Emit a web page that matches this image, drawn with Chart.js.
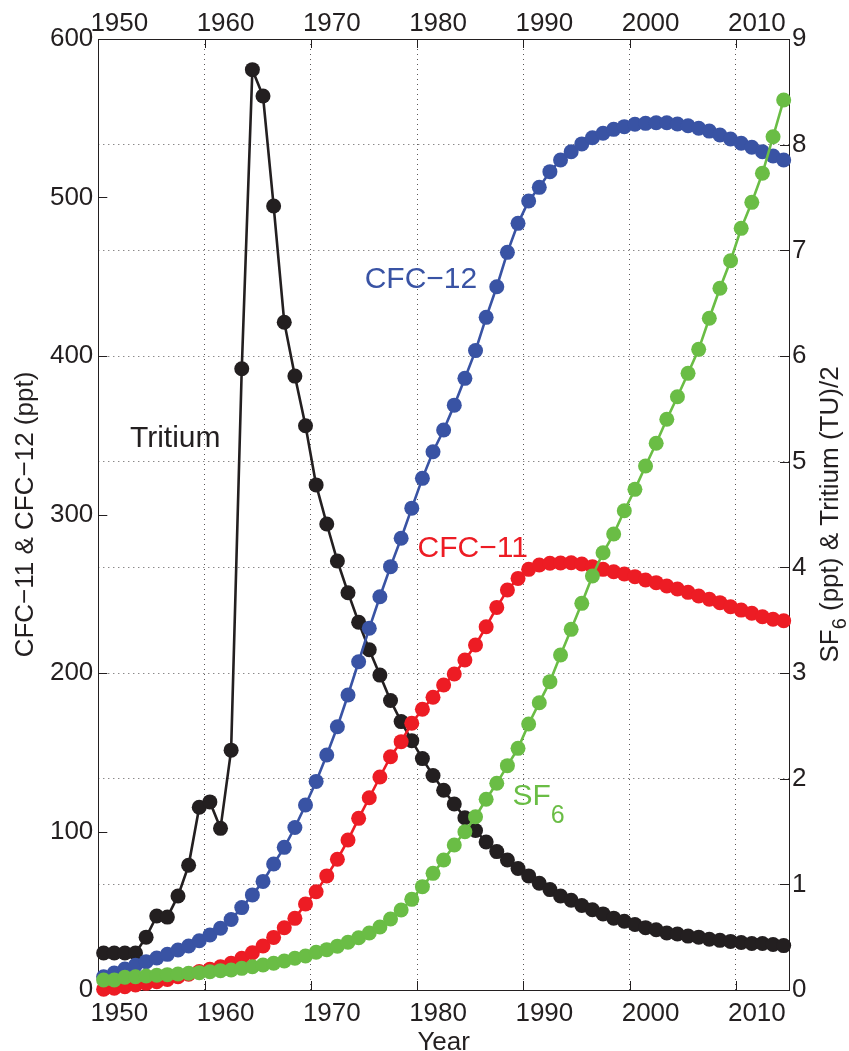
<!DOCTYPE html>
<html>
<head>
<meta charset="utf-8">
<script src="https://cdn.jsdelivr.net/npm/chart.js@4.4.1/dist/chart.umd.min.js"></script>
<style>
  html, body { margin: 0; padding: 0; background: #fff; }
  #wrap { width: 849px; height: 1051px; position: relative; }
</style>
</head>
<body>
<div id="wrap"><canvas id="chart"></canvas></div>
<script>
// mid-year sample positions
const years = [
  1950.5, 1951.5, 1952.5, 1953.5, 1954.5, 1955.5, 1956.5, 1957.5, 1958.5, 1959.5,
  1960.5, 1961.5, 1962.5, 1963.5, 1964.5, 1965.5, 1966.5, 1967.5, 1968.5, 1969.5,
  1970.5, 1971.5, 1972.5, 1973.5, 1974.5, 1975.5, 1976.5, 1977.5, 1978.5, 1979.5,
  1980.5, 1981.5, 1982.5, 1983.5, 1984.5, 1985.5, 1986.5, 1987.5, 1988.5, 1989.5,
  1990.5, 1991.5, 1992.5, 1993.5, 1994.5, 1995.5, 1996.5, 1997.5, 1998.5, 1999.5,
  2000.5, 2001.5, 2002.5, 2003.5, 2004.5, 2005.5, 2006.5, 2007.5, 2008.5, 2009.5,
  2010.5, 2011.5, 2012.5, 2013.5, 2014.5
];

// left axis (ppt)
const cfc12 = [
  8.4, 10.7, 13.2, 15.6, 17.9, 20.2, 22.5, 25.2, 27.8, 31.1,
  34.7, 39.0, 44.5, 52.0, 60.0, 68.5, 79.5, 90.0, 102.5, 116.7,
  131.6, 148.3, 166.1, 186.1, 207.1, 228.2, 248.1, 267.1, 285.0, 304.0,
  322.8, 339.6, 353.3, 369.0, 385.9, 403.4, 424.4, 443.7, 465.4, 483.7,
  497.8, 506.4, 516.3, 523.7, 528.9, 533.8, 537.7, 540.5, 543.0, 544.7,
  546.2, 546.8, 547.2, 547.2, 546.4, 545.3, 543.7, 541.9, 539.4, 536.9,
  534.2, 531.7, 528.9, 526.2, 523.7
];
const cfc11 = [
  0.5, 1.1, 2.1, 3.2, 4.2, 5.2, 6.7, 8.4, 9.9, 11.6,
  13.1, 14.7, 16.8, 20.0, 23.5, 27.8, 33.2, 39.3, 45.2, 54.3,
  62.0, 72.0, 82.5, 94.6, 108.3, 121.3, 134.4, 147.2, 156.7, 168.3,
  177.1, 184.7, 192.4, 199.4, 208.2, 217.7, 229.2, 241.4, 252.4, 259.7,
  265.4, 268.1, 269.2, 269.4, 269.6, 268.8, 267.1, 265.4, 263.9, 262.5,
  260.8, 258.7, 257.0, 254.9, 253.0, 250.9, 248.6, 246.5, 244.4, 241.8,
  239.7, 237.7, 235.5, 233.9, 233.0
];

// right axis: SF6 (ppt), tritium (TU)/2
const sf6 = [
  0.095, 0.095, 0.12, 0.126, 0.132, 0.139, 0.145, 0.151, 0.158, 0.164,
  0.173, 0.183, 0.189, 0.205, 0.22, 0.237, 0.253, 0.274, 0.30, 0.322,
  0.357, 0.382, 0.415, 0.452, 0.494, 0.54, 0.596, 0.672, 0.757, 0.858,
  0.978, 1.104, 1.23, 1.372, 1.498, 1.64, 1.805, 1.956, 2.123, 2.287,
  2.517, 2.719, 2.918, 3.17, 3.413, 3.659, 3.918, 4.138, 4.315, 4.536,
  4.738, 4.959, 5.174, 5.401, 5.615, 5.836, 6.063, 6.357, 6.641, 6.902,
  7.208, 7.454, 7.729, 8.075, 8.423
];
const tritium = [
  0.35, 0.35, 0.35, 0.35, 0.50, 0.70, 0.69, 0.89, 1.18, 1.73,
  1.78, 1.53, 2.27, 5.88, 8.71, 8.46, 7.42, 6.32, 5.81, 5.34,
  4.78, 4.41, 4.06, 3.76, 3.48, 3.22, 2.98, 2.74, 2.54, 2.36,
  2.19, 2.03, 1.89, 1.76, 1.63, 1.51, 1.40, 1.31, 1.23, 1.15,
  1.08, 1.01, 0.95, 0.89, 0.85, 0.80, 0.76, 0.72, 0.68, 0.65,
  0.62, 0.59, 0.57, 0.54, 0.53, 0.51, 0.50, 0.48, 0.47, 0.46,
  0.45, 0.44, 0.44, 0.43, 0.42
];

const xTicks = [1950, 1960, 1970, 1980, 1990, 2000, 2010];
const leftTicks = [0, 100, 200, 300, 400, 500, 600];
const rightTicks = [0, 1, 2, 3, 4, 5, 6, 7, 8, 9];

const FONT = '"Liberation Sans", Arial, Helvetica, sans-serif';
const INK = '#231f20';
const BLUE = '#3953a4';
const RED = '#ed1c24';
const GREEN = '#6abd45';

const toPoints = (vals) => years.map((yr, i) => ({ x: yr, y: vals[i] }));

const series = (label, vals, color, axis) => ({
  label,
  data: toPoints(vals),
  yAxisID: axis,
  borderColor: color,
  backgroundColor: color,
  pointBackgroundColor: color,
  pointBorderWidth: 0,
  pointRadius: 7.5,
  borderWidth: 2.6,
  tension: 0,
  clip: false
});

function richText(ctx, parts, x, y) {
  let cx = x;
  parts.forEach((p) => {
    ctx.font = p.size + 'px ' + FONT;
    ctx.fillText(p.t, cx, y + (p.dy || 0));
    cx += ctx.measureText(p.t).width;
  });
}

function richWidth(ctx, parts) {
  return parts.reduce((w, p) => {
    ctx.font = p.size + 'px ' + FONT;
    return w + ctx.measureText(p.t).width;
  }, 0);
}

const frame = {
  id: 'frame',
  beforeDatasetsDraw(chart) {
    const { ctx, chartArea: a, scales } = chart;
    const len = 9;
    ctx.save();
    ctx.strokeStyle = INK;
    ctx.lineWidth = 1;
    ctx.beginPath();
    xTicks.forEach((v) => {
      const px = Math.round(scales.x.getPixelForValue(v)) + 0.5;
      ctx.moveTo(px, a.bottom); ctx.lineTo(px, a.bottom - len);
      ctx.moveTo(px, a.top); ctx.lineTo(px, a.top + len);
    });
    leftTicks.forEach((v) => {
      const py = Math.round(scales.y.getPixelForValue(v)) + 0.5;
      ctx.moveTo(a.left, py); ctx.lineTo(a.left + len, py);
    });
    rightTicks.forEach((v) => {
      const py = Math.round(scales.y2.getPixelForValue(v)) + 0.5;
      ctx.moveTo(a.right, py); ctx.lineTo(a.right - len, py);
    });
    ctx.stroke();
    ctx.restore();
  },
  afterDatasetsDraw(chart) {
    const { ctx, chartArea: a, scales } = chart;
    const notes = chart.options.plugins.frame.notes;
    ctx.save();
    ctx.textBaseline = 'alphabetic';
    ctx.textAlign = 'left';
    notes.forEach((n) => {
      ctx.fillStyle = n.color;
      richText(ctx, n.parts, scales.x.getPixelForValue(n.x), scales.y2.getPixelForValue(n.y));
    });

    // axis titles
    ctx.fillStyle = INK;
    const yl = [{ t: 'CFC\u221211 & CFC\u221212 (ppt)', size: 26 }];
    const yr = [
      { t: 'SF', size: 26 }, { t: '6', size: 20, dy: 8 },
      { t: ' (ppt) & Tritium (TU)/2', size: 26 }
    ];
    const midY = (a.top + a.bottom) / 2;
    [[yl, 24], [yr, 829]].forEach(([parts, cx]) => {
      ctx.save();
      ctx.translate(cx, midY);
      ctx.rotate(-Math.PI / 2);
      richText(ctx, parts, -richWidth(ctx, parts) / 2, 9);
      ctx.restore();
    });
    const xl = [{ t: 'Year', size: 26 }];
    richText(ctx, xl, (a.left + a.right) / 2 - richWidth(ctx, xl) / 2, 1050);
    ctx.restore();
  }
};

const tickFont = { family: FONT, size: 26 };

new Chart(document.getElementById('chart'), {
  type: 'line',
  data: {
    datasets: [
      series('SF6', sf6, GREEN, 'y2'),
      series('CFC-11', cfc11, RED, 'y'),
      series('CFC-12', cfc12, BLUE, 'y'),
      series('Tritium', tritium, INK, 'y2')
    ]
  },
  options: {
    responsive: true,
    maintainAspectRatio: false,
    animation: false,
    layout: { padding: 0 },
    events: [],
    plugins: {
      legend: { display: false },
      tooltip: { enabled: false },
      frame: {
        notes: [
          { parts: [{ t: 'Tritium', size: 30 }], x: 1952.98, y: 5.14, color: INK },
          { parts: [{ t: 'CFC\u221212', size: 30 }], x: 1975.07, y: 6.64, color: BLUE },
          { parts: [{ t: 'CFC\u221211', size: 30 }], x: 1980.05, y: 4.10, color: RED },
          { parts: [{ t: 'SF', size: 30 }, { t: '6', size: 25, dy: 18 }], x: 1988.98, y: 1.75, color: GREEN }
        ]
      }
    },
    scales: {
      x: {
        type: 'linear',
        position: 'bottom',
        min: 1950,
        max: 2015,
        afterBuildTicks: (s) => { s.ticks = xTicks.map((v) => ({ value: v })); },
        afterFit: (s) => { s.height = 61; },
        ticks: { font: tickFont, color: INK, padding: 8, labelOffset: 21, maxRotation: 0, callback: (v) => String(v) },
        grid: { display: true, color: 'rgba(35,31,32,0.75)', lineWidth: 1, drawTicks: false },
        border: { display: true, color: INK, width: 1, dash: [1, 4] }
      },
      x2: {
        type: 'linear',
        position: 'top',
        min: 1950,
        max: 2015,
        afterBuildTicks: (s) => { s.ticks = xTicks.map((v) => ({ value: v })); },
        afterFit: (s) => { s.height = 39; },
        ticks: { font: tickFont, color: INK, padding: 0, labelOffset: 21, maxRotation: 0, callback: (v) => String(v) },
        grid: { display: false, drawTicks: false },
        border: { display: true, color: INK, width: 1 }
      },
      y: {
        type: 'linear',
        position: 'left',
        min: 0,
        max: 600,
        afterBuildTicks: (s) => { s.ticks = leftTicks.map((v) => ({ value: v })); },
        afterFit: (s) => { s.width = 98.3; },
        ticks: { font: tickFont, color: INK, padding: 5 },
        grid: { display: false, drawTicks: false },
        border: { display: true, color: INK, width: 1 }
      },
      y2: {
        type: 'linear',
        position: 'right',
        min: 0,
        max: 9,
        afterBuildTicks: (s) => { s.ticks = rightTicks.map((v) => ({ value: v })); },
        afterFit: (s) => { s.width = 60; },
        ticks: { font: tickFont, color: INK, padding: 3 },
        grid: { display: true, color: 'rgba(35,31,32,0.75)', lineWidth: 1, drawTicks: false },
        border: { display: true, color: INK, width: 1, dash: [1, 4] }
      }
    }
  },
  plugins: [frame]
});
</script>
</body>
</html>
